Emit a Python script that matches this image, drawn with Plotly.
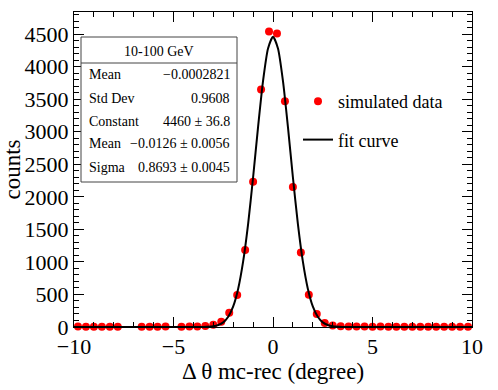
import plotly.graph_objects as go

# ---- data ----
bin_centers = [-9.8, -9.4, -9.0, -8.6, -8.2, -7.8, -7.4, -7.0, -6.6, -6.2,
               -5.8, -5.4, -5.0, -4.6, -4.2, -3.8, -3.4, -3.0, -2.6, -2.2,
               -1.8, -1.4, -1.0, -0.6, -0.2, 0.2, 0.6, 1.0, 1.4, 1.8,
               2.2, 2.6, 3.0, 3.4, 3.8, 4.2, 4.6, 5.0, 5.4, 5.8,
               6.2, 6.6, 7.0, 7.4, 7.8, 8.2, 8.6, 9.0, 9.4, 9.8]
counts = [6, 4, 5, 3, 4, 5, None, None, 4, 5,
          3, 6, None, 5, 7, 9, 14, 35, 82, 220,
          492, 1183, 2230, 3650, 4540, 4510, 3470, 2150, 1145, 495,
          200, 60, 22, 12, 9, 8, 6, 5, 6, 4,
          5, 4, 3, 5, 4, 3, 4, 3, 4, 5]

fit_x = [-10.0, -4.0, -3.5, -3.0, -2.75, -2.5, -2.25, -2.0, -1.75, -1.5, -1.25,
         -1.0, -0.75, -0.5, -0.25, 0.0, 0.25, 0.5, 0.75, 1.0, 1.25, 1.5,
         1.75, 2.0, 2.25, 2.5, 2.75, 3.0, 3.5, 4.0, 10.0]
fit_y = [0, 0, 1.3, 11.6, 30, 71, 157, 316, 588, 1007, 1586,
         2301, 3074, 3780, 4279, 4460, 4279, 3780, 3074, 2301, 1586, 1007,
         588, 316, 157, 71, 30, 11.6, 1.3, 0, 0]

stats_title = "10-100 GeV"
stats_labels = ["Mean", "Std Dev", "Constant", "Mean", "Sigma"]
stats_values = ["\u22120.0002821", "0.9608", "4460 \u00b1 36.8",
                "\u22120.0126 \u00b1 0.0056", "0.8693 \u00b1 0.0045"]

FONT = "Liberation Serif"

fig = go.Figure()
fig.add_trace(go.Scatter(
    x=bin_centers, y=counts, mode="markers", name="simulated data",
    marker=dict(color="#ff0000", size=8, symbol="circle"),
    cliponaxis=False, legendgroup="a"))
fig.add_trace(go.Scatter(
    x=fit_x, y=fit_y, mode="lines", name="fit curve",
    line=dict(color="black", width=2, shape="spline", smoothing=0.6),
    legendgroup="b"))

# plot-area pixel geometry
L, R, T, B = 74, 472, 12, 327
W, H = 498, 390

def px(xp):
    return (xp - L) / (R - L)

def py(yp):
    return (B - yp) / (B - T)

# stats box
fig.add_shape(type="rect", xref="paper", yref="paper",
              x0=px(81), x1=px(237), y0=py(182), y1=py(37),
              line=dict(color="#444444", width=1), fillcolor="white")
fig.add_shape(type="line", xref="paper", yref="paper",
              x0=px(81), x1=px(237), y0=py(63), y1=py(63),
              line=dict(color="#444444", width=1))
fig.add_annotation(xref="paper", yref="paper", x=px(159), y=py(51),
                   text=stats_title, showarrow=False, xanchor="center",
                   yanchor="middle", font=dict(family=FONT, size=14, color="black"))
row_y = [75, 98, 121, 144, 167]
for lab, val, yy in zip(stats_labels, stats_values, row_y):
    fig.add_annotation(xref="paper", yref="paper", x=px(87), y=py(yy),
                       text=lab, showarrow=False, xanchor="left", yanchor="middle",
                       font=dict(family=FONT, size=14, color="black"))
    fig.add_annotation(xref="paper", yref="paper", x=px(232), y=py(yy),
                       text=val, showarrow=False, xanchor="right", yanchor="middle",
                       font=dict(family=FONT, size=14, color="black"))

axis_common = dict(
    showline=True, linecolor="black", linewidth=1, mirror="allticks",
    ticks="inside", ticklen=10, tickcolor="black", tickwidth=1,
    showgrid=False, zeroline=False, automargin=False,
    tickfont=dict(family=FONT, size=22, color="black"),
)

fig.update_xaxes(range=[-10, 10], dtick=5, tick0=0,
                 minor=dict(ticks="inside", dtick=1, ticklen=5, tickcolor="black"),
                 title=dict(text="\u0394 \u03b8 mc-rec (degree)",
                            font=dict(family=FONT, size=23, color="black"), standoff=2),
                 **axis_common)
fig.update_yaxes(range=[0, 4840], dtick=500, tick0=0,
                 minor=dict(ticks="inside", dtick=100, ticklen=5, tickcolor="black"),
                 title=dict(text="counts",
                            font=dict(family=FONT, size=23, color="black"), standoff=2),
                 **axis_common)

fig.update_layout(
    width=W, height=H,
    margin=dict(l=L, r=W - R, t=T, b=H - B, autoexpand=False),
    paper_bgcolor="white", plot_bgcolor="white",
    font=dict(family=FONT, color="black"),
    legend=dict(x=px(298), y=py(83), xanchor="left", yanchor="top",
                bgcolor="rgba(0,0,0,0)", borderwidth=0,
                font=dict(family=FONT, size=18, color="black"),
                traceorder="grouped", tracegroupgap=12),
)

fig.write_html("out.html", config={"displayModeBar": False},
               post_script="document.body.style.margin='0px';document.body.style.overflow='hidden';")
